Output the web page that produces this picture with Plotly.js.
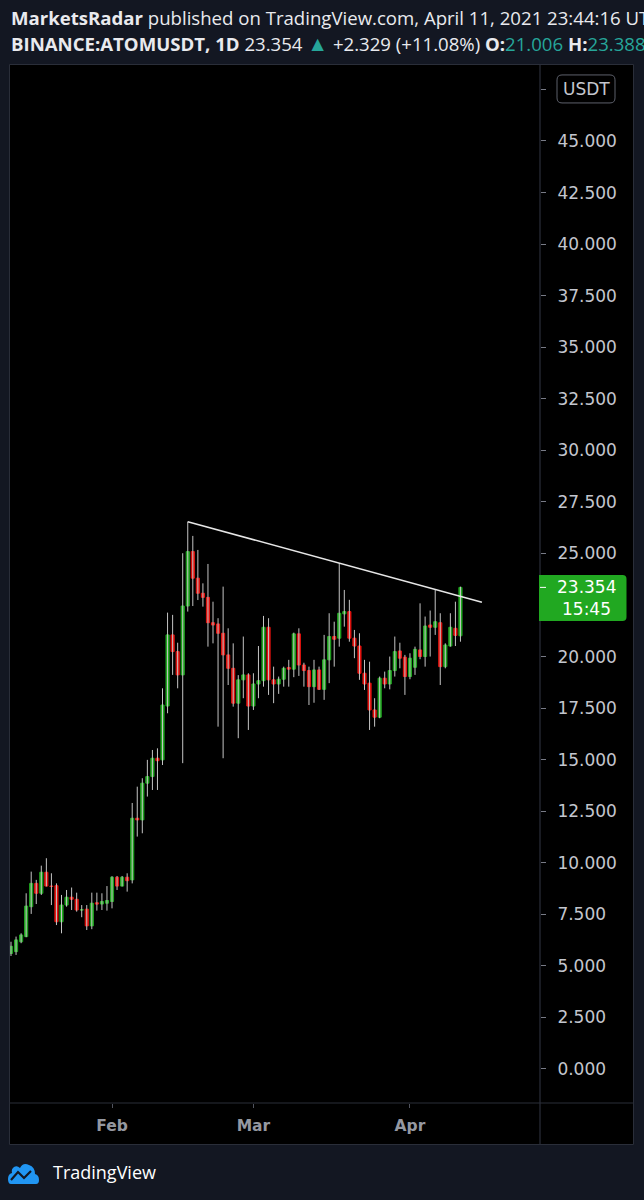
<!DOCTYPE html>
<html>
<head>
<meta charset="utf-8">
<script src="https://cdn.plot.ly/plotly-3.0.1.min.js"></script>
<style>
html,body{margin:0;padding:0;background:#131722;overflow:hidden;}
#chart{width:644px;height:1200px;}
</style>
</head>
<body>
<div id="chart"></div>
<script>
// ---------- DATA ----------
const dates = [
 '2021-01-12','2021-01-13','2021-01-14','2021-01-15','2021-01-16','2021-01-17','2021-01-18','2021-01-19','2021-01-20','2021-01-21',
 '2021-01-22','2021-01-23','2021-01-24','2021-01-25','2021-01-26','2021-01-27','2021-01-28','2021-01-29','2021-01-30','2021-01-31',
 '2021-02-01','2021-02-02','2021-02-03','2021-02-04','2021-02-05','2021-02-06','2021-02-07','2021-02-08','2021-02-09','2021-02-10',
 '2021-02-11','2021-02-12','2021-02-13','2021-02-14','2021-02-15','2021-02-16','2021-02-17','2021-02-18','2021-02-19','2021-02-20',
 '2021-02-21','2021-02-22','2021-02-23','2021-02-24','2021-02-25','2021-02-26','2021-02-27','2021-02-28','2021-03-01','2021-03-02',
 '2021-03-03','2021-03-04','2021-03-05','2021-03-06','2021-03-07','2021-03-08','2021-03-09','2021-03-10','2021-03-11','2021-03-12',
 '2021-03-13','2021-03-14','2021-03-15','2021-03-16','2021-03-17','2021-03-18','2021-03-19','2021-03-20','2021-03-21','2021-03-22',
 '2021-03-23','2021-03-24','2021-03-25','2021-03-26','2021-03-27','2021-03-28','2021-03-29','2021-03-30','2021-03-31','2021-04-01',
 '2021-04-02','2021-04-03','2021-04-04','2021-04-05','2021-04-06','2021-04-07','2021-04-08','2021-04-09','2021-04-10','2021-04-11'
];
const opens = [
 5.60, 5.69, 6.17, 6.42, 7.87, 9.00, 8.52, 9.54, 8.87, 8.89,
 7.14, 7.95, 8.33, 8.23, 7.71, 7.75, 6.94, 8.06, 8.00, 8.04,
 8.12, 9.30, 8.87, 9.30, 9.17, 12.16, 12.08, 13.86, 14.18, 15.07,
 14.99, 17.60, 21.05, 20.24, 19.11, 22.45, 25.09, 23.80, 23.07, 22.87,
 21.64, 21.58, 21.13, 20.08, 19.43, 17.74, 18.87, 19.11, 17.60, 18.67,
 18.83, 21.42, 18.87, 18.67, 18.90, 19.47, 19.39, 21.10, 19.59, 19.32,
 18.54, 19.35, 18.41, 19.84, 20.97, 20.89, 22.07, 22.18, 20.89, 20.51,
 19.19, 18.71, 17.41, 17.06, 18.95, 18.67, 19.32, 20.27, 19.97, 19.03,
 19.48, 20.32, 20.00, 21.53, 21.42, 21.64, 19.51, 20.51, 21.37, 21.006
];
const highs = [
 6.17, 6.42, 6.58, 8.52, 9.57, 9.17, 9.86, 10.22, 9.49, 9.00,
 8.44, 8.68, 8.80, 8.55, 7.95, 7.95, 8.55, 8.55, 8.52, 8.87,
 9.35, 9.36, 9.36, 9.49, 12.90, 13.69, 14.10, 14.99, 15.47, 15.55,
 18.46, 22.13, 22.02, 20.67, 25.01, 26.54, 25.85, 25.17, 23.55, 24.49,
 22.66, 21.86, 23.39, 21.37, 20.64, 19.10, 20.97, 19.19, 19.19, 20.51,
 21.97, 21.86, 19.51, 19.03, 19.51, 19.84, 21.16, 21.37, 19.70, 19.51,
 19.84, 19.51, 21.05, 22.10, 21.69, 24.53, 23.23, 22.75, 21.29, 21.13,
 19.84, 19.75, 17.98, 19.03, 19.27, 20.00, 20.97, 20.67, 20.08, 20.16,
 20.48, 22.58, 21.94, 22.23, 23.23, 22.10, 20.64, 22.10, 22.66, 23.388
];
const lows = [
 5.48, 5.53, 6.10, 6.39, 7.52, 8.00, 8.44, 8.85, 7.95, 6.98,
 6.58, 7.87, 7.71, 7.63, 7.36, 6.74, 6.78, 7.68, 7.71, 7.68,
 7.79, 8.68, 8.85, 8.60, 9.00, 11.27, 11.43, 13.21, 13.53, 13.53,
 14.74, 17.25, 19.11, 18.46, 14.83, 22.18, 22.45, 22.74, 22.42, 20.48,
 20.64, 16.60, 15.07, 18.62, 17.57, 16.04, 17.98, 16.44, 17.41, 17.98,
 18.54, 18.14, 17.74, 18.19, 18.54, 18.54, 19.00, 19.06, 18.54, 17.65,
 17.76, 18.38, 17.90, 18.71, 19.51, 20.48, 21.45, 20.72, 19.92, 18.87,
 18.38, 16.44, 16.60, 17.01, 18.46, 18.41, 19.03, 19.43, 18.14, 18.90,
 19.11, 19.87, 19.51, 20.00, 21.05, 18.62, 19.43, 20.48, 20.51, 20.72
];
const closes = [
 5.95, 6.26, 6.50, 7.90, 9.00, 8.52, 9.54, 8.87, 8.85, 7.14,
 7.95, 8.33, 8.23, 7.71, 7.72, 6.94, 8.04, 8.00, 8.12, 8.17,
 9.30, 8.87, 9.30, 9.13, 12.16, 12.08, 13.86, 14.18, 15.07, 14.95,
 17.65, 21.05, 20.24, 19.11, 22.45, 25.09, 23.80, 23.07, 22.87, 21.64,
 21.53, 21.13, 20.08, 19.43, 17.74, 18.87, 19.11, 17.60, 18.67, 18.83,
 21.42, 18.87, 18.67, 18.90, 19.43, 19.39, 21.10, 19.59, 19.32, 18.54,
 19.35, 18.41, 19.84, 20.97, 20.84, 22.10, 22.18, 20.89, 20.51, 19.19,
 18.67, 17.41, 17.06, 18.95, 18.67, 19.32, 20.24, 19.92, 19.03, 19.92,
 20.35, 20.00, 21.48, 21.42, 21.69, 19.51, 20.56, 21.42, 21.025, 23.354
];
// descending resistance line drawn on the chart
const trendDates = ['2021-02-16', '2021-04-15 06:00'];
const trendPrices = [26.54, 22.63];

// 22.500 is hidden behind the last-price label and 47.500 behind the currency label
const priceTicks = [0, 2.5, 5, 7.5, 10, 12.5, 15, 17.5, 20, 22.5, 25, 27.5, 30, 32.5, 35, 37.5, 40, 42.5, 45, 47.5];
const priceTickText = ['0.000','2.500','5.000','7.500','10.000','12.500','15.000','17.500','20.000','','25.000','27.500','30.000','32.500','35.000','37.500','40.000','42.500','45.000',''];
const monthTicks = ['2021-02-01', '2021-03-01', '2021-04-01'];
const monthLabels = ['Feb', 'Mar', 'Apr'];

const headerLine1 = '<b>MarketsRadar</b> published on TradingView.com, April 11, 2021 23:44:16 UTC';
const symbolText = 'BINANCE:ATOMUSDT, 1D';
const changeText = '+2.329 (+11.08%)';
const currencyLabel = 'USDT';
const timerLabel = '15:45';
const brandLabel = 'TradingView';

// ---------- STYLE / GEOMETRY ----------
const W = 644, H = 1200;
const PL = 10, PR = 540, PT = 65, PB = 1103;      // plot area in px
const FR = 633.5, FB = 1144.5;                      // outer frame right/bottom
const GREEN = '#21a821', RED = '#e5130f', TEAL = '#26a69a';
const WICK = '#c4c4c4', BORDER = '#2a2e39';
const yRange = [-1.649, 48.685];
const xRange = ['2021-01-11 19:12', '2021-04-26 18:00'];

const px2paperX = px => (px - PL) / (PR - PL);
const px2paperY = py => (PB - py) / (PB - PT);

// wick segments from lows/highs
const wx = [], wy = [];
dates.forEach((d, i) => { wx.push(d, d, null); wy.push(lows[i], highs[i], null); });

const last = closes.length - 1;
const lastClose = closes[last];

const traces = [
  { type: 'scatter', mode: 'lines', x: wx, y: wy, line: { color: WICK, width: 1 }, hoverinfo: 'skip', connectgaps: false },
  { type: 'candlestick', x: dates, open: opens, close: closes,
    high: opens.map((o, i) => Math.max(o, closes[i])),
    low: opens.map((o, i) => Math.min(o, closes[i])),
    increasing: { line: { color: GREEN, width: 1 }, fillcolor: GREEN },
    decreasing: { line: { color: RED, width: 1 }, fillcolor: RED },
    whiskerwidth: 0, hoverinfo: 'skip' },
  { type: 'scatter', mode: 'lines', x: trendDates, y: trendPrices, line: { color: '#e6e6e6', width: 1.5 }, hoverinfo: 'skip' }
];

const shapes = [
  // black chart panel with frame
  { type: 'rect', xref: 'paper', yref: 'paper', layer: 'below',
    x0: px2paperX(9.5), x1: px2paperX(FR), y0: px2paperY(FB), y1: px2paperY(64.5),
    fillcolor: '#000000', line: { color: BORDER, width: 1 } },
  // separators
  { type: 'line', xref: 'paper', yref: 'paper', layer: 'below',
    x0: 1, x1: 1, y0: px2paperY(FB), y1: 1, line: { color: BORDER, width: 1.2 } },
  { type: 'line', xref: 'paper', yref: 'paper', layer: 'below',
    x0: px2paperX(9.5), x1: px2paperX(FR), y0: 0, y1: 0, line: { color: BORDER, width: 1.2 } },
  // currency box
  { type: 'path', layer: 'above', xref: 'paper', xsizemode: 'pixel', xanchor: 1,
    yref: 'y', ysizemode: 'pixel', yanchor: priceTicks[priceTicks.length - 1],
    path: 'M 22 14.5 L 70 14.5 Q 75 14.5 75 9.5 L 75 -8.5 Q 75 -13.5 70 -13.5 L 22 -13.5 Q 17 -13.5 17 -8.5 L 17 9.5 Q 17 14.5 22 14.5 Z',
    fillcolor: '#000000', line: { color: '#5d606b', width: 1 } },
  // last price box
  { type: 'path', layer: 'above', xref: 'paper', xsizemode: 'pixel', xanchor: 1,
    yref: 'y', ysizemode: 'pixel', yanchor: lastClose,
    path: 'M -1 12.5 L 82.5 12.5 Q 86.5 12.5 86.5 8.5 L 86.5 -29.5 Q 86.5 -33.5 82.5 -33.5 L -1 -33.5 Z',
    fillcolor: GREEN, line: { width: 0 } },
  { type: 'line', layer: 'above', xref: 'paper', xsizemode: 'pixel', xanchor: 1,
    yref: 'y', ysizemode: 'pixel', yanchor: lastClose,
    x0: 0, x1: 6, y0: 0, y1: 0, line: { color: '#ffffff', width: 1 } },
  // TradingView logo cloud
  { type: 'path', layer: 'above', xref: 'paper', xsizemode: 'pixel', xanchor: px2paperX(8),
    yref: 'paper', ysizemode: 'pixel', yanchor: px2paperY(1184),
    path: 'M 3 0 L 28 0 Q 31 0 31 4 Q 31 9 27 10 Q 27 17 21 19 Q 15 22 12 16 Q 9 19 6 17 Q 3 15 4 11 Q 0 10 0 5 Q 0 0 3 0 Z',
    fillcolor: '#2196f3', line: { width: 0 } },
  { type: 'path', layer: 'above', xref: 'paper', xsizemode: 'pixel', xanchor: px2paperX(8),
    yref: 'paper', ysizemode: 'pixel', yanchor: px2paperY(1184),
    path: 'M 3 4 L 10 12 L 16 6 L 23 13',
    line: { color: '#131722', width: 2.2 } }
];

const tickFont = { family: 'DejaVu Sans, sans-serif', size: 17, color: '#c3c6ce' };
const headFont = { family: 'Open Sans, sans-serif', size: 18.6, color: '#e9eaee' };
const annotations = [
  { xref: 'paper', yref: 'paper', x: px2paperX(9), y: px2paperY(17), xanchor: 'left', yanchor: 'middle',
    showarrow: false, text: headerLine1, font: headFont },
  { xref: 'paper', yref: 'paper', x: px2paperX(9), y: px2paperY(43), xanchor: 'left', yanchor: 'middle',
    showarrow: false,
    text: '<b>' + symbolText + '</b> ' + lastClose.toFixed(3) + ' <span style="color:' + TEAL + ';font-size:21px">▲</span> ' + changeText +
          ' <b>O:</b><span style="color:' + TEAL + '">' + opens[last].toFixed(3) + '</span>' +
          ' <b>H:</b><span style="color:' + TEAL + '">' + highs[last].toFixed(3) + '</span>',
    font: headFont },
  { xref: 'paper', yref: 'y', x: px2paperX(586), y: priceTicks[priceTicks.length - 1], xanchor: 'center', yanchor: 'middle',
    showarrow: false, text: currencyLabel, font: tickFont },
  { xref: 'paper', yref: 'y', x: px2paperX(586), y: lastClose, xanchor: 'center', yanchor: 'middle',
    showarrow: false, text: lastClose.toFixed(3), font: { family: 'DejaVu Sans, sans-serif', size: 17, color: '#ffffff' } },
  { xref: 'paper', yref: 'y', x: px2paperX(586), y: lastClose, yshift: -22, xanchor: 'center', yanchor: 'middle',
    showarrow: false, text: timerLabel, font: { family: 'DejaVu Sans, sans-serif', size: 17, color: '#ffffff' } },
  { xref: 'paper', yref: 'paper', x: px2paperX(51), y: px2paperY(1172), xanchor: 'left', yanchor: 'middle',
    showarrow: false, text: brandLabel, font: { family: 'Open Sans, sans-serif', size: 18, color: '#ffffff' } }
];

const layout = {
  width: W, height: H,
  margin: { l: PL, r: W - PR, t: PT, b: H - PB, pad: 0 },
  paper_bgcolor: '#131722', plot_bgcolor: '#000000',
  showlegend: false,
  boxgap: 0.12,
  xaxis: {
    type: 'date', range: xRange, showgrid: false, zeroline: false, showline: false,
    tickmode: 'array', tickvals: monthTicks, ticktext: monthLabels,
    ticks: 'outside', ticklen: 4, tickcolor: '#50535e', tickwidth: 1,
    tickfont: { family: 'DejaVu Sans, sans-serif', size: 15.5, color: '#9598a1', weight: 'bold' },
    ticklabelstandoff: 4,
    rangeslider: { visible: false }, fixedrange: true
  },
  yaxis: {
    side: 'right', range: yRange, showgrid: false, zeroline: false, showline: false,
    tickmode: 'array', tickvals: priceTicks, ticktext: priceTickText,
    ticks: 'outside', ticklen: 5, tickcolor: '#787b86', tickwidth: 1,
    tickfont: tickFont, ticklabelstandoff: 8, fixedrange: true
  },
  shapes: shapes,
  annotations: annotations
};

Plotly.newPlot('chart', traces, layout, { staticPlot: true, displayModeBar: false });
</script>
</body>
</html>
